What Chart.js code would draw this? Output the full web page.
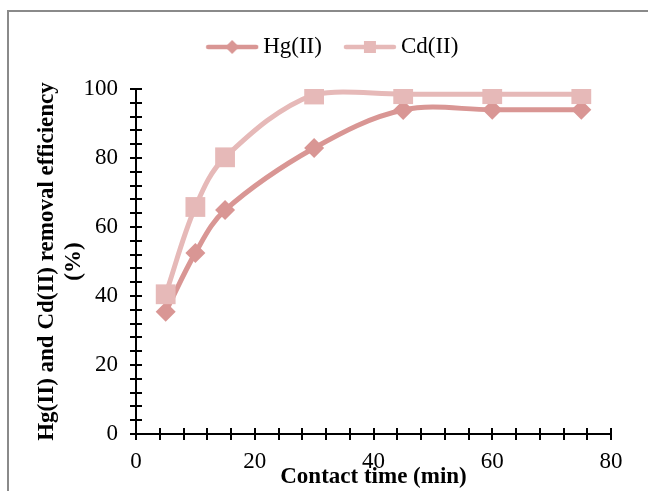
<!DOCTYPE html>
<html>
<head>
<meta charset="utf-8">
<script src="https://cdn.jsdelivr.net/npm/chart.js@4.4.1/dist/chart.umd.min.js"></script>
<style>
  html, body { margin: 0; padding: 0; background: #fff; overflow: hidden; }
  #wrap { position: relative; width: 648px; height: 491px; overflow: hidden; }
  #frame { position: absolute; left: 7px; top: 10px; width: 700px; height: 600px; border: 2px solid #8a8a8a; box-sizing: border-box; }
  #chart { position: absolute; left: 0; top: 0; }
</style>
</head>
<body>
<div id="wrap">
  <div id="frame"></div>
  <canvas id="chart" width="648" height="491"></canvas>
</div>
<script>
var contactTime = [5, 10, 15, 30, 45, 60, 75];
var hgRemoval = [35.4, 52.5, 64.9, 82.9, 93.9, 94.0, 94.0];
var cdRemoval = [40.5, 65.8, 80.2, 98.4, 98.5, 98.5, 98.5];
var seriesNames = ['Hg(II)', 'Cd(II)'];
var xTickLabels = [0, 20, 40, 60, 80];
var yTickLabels = [0, 20, 40, 60, 80, 100];

var hgColor = '#D99694';
var cdColor = '#E6B9B8';
var serif = "'Liberation Serif', 'Times New Roman', serif";

function toPoints(values) {
  return contactTime.map(function(t, i) { return {x: t, y: values[i]}; });
}

// small line + marker pictures for the legend
function legendGlyph(color, shape) {
  var c = document.createElement('canvas');
  c.width = 54;
  c.height = 20;
  var g = c.getContext('2d');
  g.strokeStyle = color;
  g.lineWidth = 4.5;
  g.lineCap = 'round';
  g.beginPath();
  g.moveTo(3, 10);
  g.lineTo(51, 10);
  g.stroke();
  g.fillStyle = color;
  if (shape == 'diamond') {
    g.beginPath();
    g.moveTo(27 - 7, 10);
    g.lineTo(27, 3);
    g.lineTo(27 + 7, 10);
    g.lineTo(27, 17);
    g.closePath();
    g.fill();
  } else {
    g.fillRect(27 - 6, 10 - 6, 12, 12);
  }
  return c;
}
var legendGlyphs = [legendGlyph(hgColor, 'diamond'), legendGlyph(cdColor, 'square')];

// ticks in Excel style: cross the axis line
var crossTicks = {
  id: 'crossTicks',
  beforeDatasetsDraw: function(chart) {
    var ctx = chart.ctx;
    var area = chart.chartArea;
    ctx.save();
    ctx.strokeStyle = '#000';
    ctx.lineWidth = 2;
    ctx.beginPath();
    var xs = chart.scales.x;
    xs.ticks.forEach(function(t, i) {
      var px = Math.round(xs.getPixelForTick(i));
      ctx.moveTo(px, area.bottom);
      ctx.lineTo(px, area.bottom - 6);
    });
    var ys = chart.scales.y;
    ys.ticks.forEach(function(t, i) {
      var py = Math.round(ys.getPixelForTick(i));
      ctx.moveTo(area.left, py);
      ctx.lineTo(area.left + 6, py);
    });
    ctx.stroke();
    ctx.restore();
  }
};

var chart = new Chart(document.getElementById('chart').getContext('2d'), {
  type: 'line',
  data: {
    datasets: [{
      label: seriesNames[0],
      data: toPoints(hgRemoval),
      borderColor: hgColor,
      backgroundColor: hgColor,
      borderWidth: 5,
      tension: 0.35,
      pointStyle: 'rectRot',
      pointRadius: 10,
      pointBorderWidth: 0,
      order: 1
    }, {
      label: seriesNames[1],
      data: toPoints(cdRemoval),
      borderColor: cdColor,
      backgroundColor: cdColor,
      borderWidth: 5,
      tension: 0.35,
      pointStyle: 'rect',
      pointRadius: 14,
      pointBorderWidth: 0,
      order: 0
    }]
  },
  options: {
    responsive: false,
    animation: false,
    devicePixelRatio: 1,
    layout: { padding: { top: 7, left: 60, right: 37, bottom: 0 } },
    plugins: {
      tooltip: { enabled: false },
      legend: {
        position: 'top',
        labels: {
          usePointStyle: true,
          pointStyleWidth: 39,
          padding: 28.5,
          color: '#000',
          font: { family: serif, size: 23 },
          sort: function(a, b) { return a.datasetIndex - b.datasetIndex; },
          generateLabels: function(chart) {
            var items = Chart.defaults.plugins.legend.labels.generateLabels(chart);
            items.forEach(function(item) { item.pointStyle = legendGlyphs[item.datasetIndex]; });
            return items;
          }
        }
      },
      // empty spacer between legend and plot
      subtitle: {
        display: true,
        text: '',
        weight: 500,
        padding: 0,
        font: { size: 20.5, lineHeight: 1 }
      }
    },
    scales: {
      x: {
        type: 'linear',
        min: 0,
        max: 80,
        afterFit: function(scale) { scale.height = 57; },
        ticks: {
          stepSize: 4,
          autoSkip: false,
          maxRotation: 0,
          padding: 8,
          color: '#000',
          font: { family: serif, size: 23, lineHeight: 1.2 },
          callback: function(v) { return xTickLabels.indexOf(v) >= 0 ? String(v) : ''; }
        },
        grid: { drawOnChartArea: false, drawTicks: true, tickLength: 6, color: '#000', lineWidth: 2 },
        border: { display: true, color: '#000', width: 2 },
        title: {
          display: true,
          text: 'Contact time (min)',
          color: '#000',
          padding: { top: 0, bottom: 0 },
          font: { family: serif, size: 23, weight: 'bold', lineHeight: 1.2 }
        }
      },
      y: {
        min: 0,
        max: 100,
        afterFit: function(scale) { scale.width = 76; },
        ticks: {
          stepSize: 4,
          autoSkip: false,
          padding: 12,
          color: '#000',
          font: { family: serif, size: 23 },
          callback: function(v) { return yTickLabels.indexOf(v) >= 0 ? String(v) : ''; }
        },
        grid: { drawOnChartArea: false, drawTicks: true, tickLength: 6, color: '#000', lineWidth: 2 },
        border: { display: true, color: '#000', width: 2 },
        title: {
          display: true,
          text: ['Hg(II) and Cd(II) removal efficiency', '(%)'],
          color: '#000',
          padding: { top: -26, bottom: 0 },
          font: { family: serif, size: 23, weight: 'bold', lineHeight: 1.15 }
        }
      }
    }
  },
  plugins: [crossTicks]
});
</script>
</body>
</html>
